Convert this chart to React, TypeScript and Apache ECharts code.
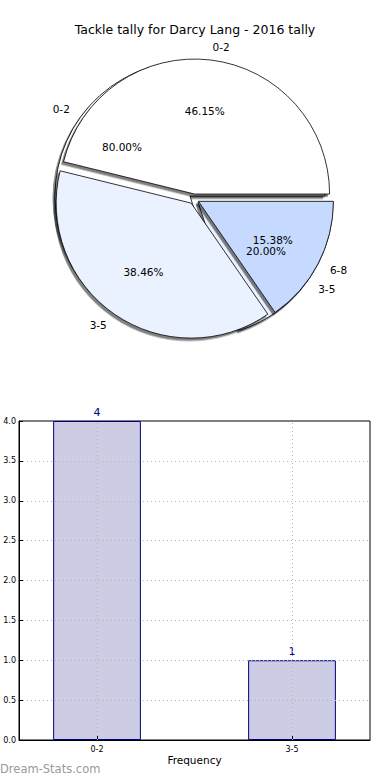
import React, { useEffect, useRef } from 'react';
import * as echarts from 'echarts';

const TITLE = 'Tackle tally for Darcy Lang - 2016 tally';
const WATERMARK = 'Dream-Stats.com';
const X_NAME = 'Frequency';

// back pie (80 / 20)
const pieBackCategories = ['0-2', '3-5'];
const pieBackValues = [4, 1];
// front pie (46.15 / 38.46 / 15.38)
const pieFrontCategories = ['0-2', '3-5', '6-8'];
const pieFrontValues = [6, 5, 2];

// bar chart
const barCategories = ['0-2', '3-5'];
const barValues = [4, 1];
const yMin = 0;
const yMax = 4;
const yInterval = 0.5;

const FONT = '"DejaVu Sans", Verdana, sans-serif';
const sliceColors = ['#ffffff', '#ebf2ff', '#c6d9ff'];

const R = 135;
const CX = 194;
const CY = 199;
const EXPLODE = 5;

const GRID_LEFT = 19;
const GRID_RIGHT = 20;
const GRID_TOP = 421;
const GRID_BOTTOM = 40;
const X_MIN = -0.4;
const X_MAX = 1.4;
const BAR_WIDTH_UNITS = 0.45;

export default function App() {
  const ref = useRef<HTMLDivElement>(null);

  useEffect(() => {
    if (!ref.current) return;
    const chart = echarts.init(ref.current, undefined, { renderer: 'svg' });

    const pieBase: any = {
      type: 'pie',
      center: [CX, CY],
      startAngle: 0,
      clockwise: false,
      selectedMode: 'multiple',
      selectedOffset: EXPLODE,
      silent: true,
      avoidLabelOverlap: false,
      labelLayout: { hideOverlap: false },
      emphasis: { disabled: true },
      animation: false,
    };

    const sliceSeries = (cats: string[], vals: number[], z: number) => ({
      ...pieBase,
      z,
      radius: [0, R],
      itemStyle: {
        borderColor: '#000',
        borderWidth: 0.8,
        shadowBlur: 1,
        shadowOffsetX: -2,
        shadowOffsetY: 2.5,
        shadowColor: 'rgba(0,0,0,0.5)',
      },
      label: {
        show: true,
        position: 'outside',
        formatter: '{b}',
        color: '#000',
        fontSize: 10.5,
        fontFamily: FONT,
        distanceToLabelLine: 0,
      },
      labelLine: { show: false, length: R * 0.1, length2: 0 },
      data: cats.map((c, i) => ({
        name: c,
        value: vals[i],
        selected: true,
        itemStyle: { color: sliceColors[i] },
      })),
    });

    const pctSeries = (cats: string[], vals: number[], z: number) => {
      const total = vals.reduce((a, b) => a + b, 0);
      return {
        ...pieBase,
        z,
        radius: [0, R * 1.2],
        itemStyle: { color: 'rgba(0,0,0,0)', borderWidth: 0 },
        label: {
          show: true,
          position: 'inside',
          formatter: (p: any) => ((p.value / total) * 100).toFixed(2) + '%',
          color: '#000',
          fontSize: 10.5,
          fontFamily: FONT,
        },
        labelLine: { show: false },
        data: cats.map((c, i) => ({ name: c, value: vals[i], selected: true })),
      };
    };

    const plotWidth = 390 - GRID_LEFT - GRID_RIGHT;
    const barWidthPx = (plotWidth / (X_MAX - X_MIN)) * BAR_WIDTH_UNITS;
    const catIdx = barCategories.map((_, i) => i);

    chart.setOption({
      animation: false,
      textStyle: { fontFamily: FONT },
      title: {
        text: TITLE,
        left: 'center',
        top: 18,
        textStyle: { fontSize: 12.5, fontWeight: 'normal', fontFamily: FONT, color: '#000' },
      },
      graphic: [
        {
          type: 'text',
          left: 0,
          top: 763,
          style: { text: WATERMARK, fill: '#9a9a9a', fontSize: 11.5, fontFamily: FONT },
        },
      ],
      grid: {
        left: GRID_LEFT,
        right: GRID_RIGHT,
        top: GRID_TOP,
        bottom: GRID_BOTTOM,
        show: true,
        borderColor: '#000',
        borderWidth: 1,
        backgroundColor: 'rgba(0,0,0,0)',
      },
      xAxis: {
        type: 'value',
        min: X_MIN,
        max: X_MAX,
        z: 5,
        axisLine: { show: true, onZero: false, lineStyle: { color: '#000', width: 1 } },
        axisTick: { show: true, inside: true, length: 4, customValues: catIdx, lineStyle: { color: '#000' } },
        axisLabel: {
          customValues: catIdx,
          formatter: (v: number) => {
            const i = Math.round(v);
            return Math.abs(v - i) < 1e-6 && barCategories[i] ? barCategories[i] : '';
          },
          fontSize: 8,
          color: '#000',
          margin: 5,
          fontFamily: FONT,
        },
        splitLine: { show: false },
        name: X_NAME,
        nameLocation: 'middle',
        nameGap: 14,
        nameTextStyle: { fontSize: 10.5, color: '#000', fontFamily: FONT },
      },
      yAxis: {
        type: 'value',
        min: yMin,
        max: yMax,
        interval: yInterval,
        z: 5,
        axisLine: { show: true, onZero: false, lineStyle: { color: '#000', width: 1 } },
        axisTick: { show: true, inside: true, length: 4, lineStyle: { color: '#000' } },
        axisLabel: {
          formatter: (v: number) => v.toFixed(1),
          fontSize: 8,
          color: '#000',
          margin: 3,
          fontFamily: FONT,
        },
        splitLine: {
          show: true,
          showMinLine: false,
          showMaxLine: false,
          lineStyle: { type: [1, 3], color: '#b4b4b4', width: 1 },
        },
      },
      series: [
        sliceSeries(pieBackCategories, pieBackValues, 2),
        sliceSeries(pieFrontCategories, pieFrontValues, 3),
        pctSeries(pieBackCategories, pieBackValues, 4),
        pctSeries(pieFrontCategories, pieFrontValues, 5),
        {
          type: 'bar',
          data: barCategories.map((_, i) => [i, barValues[i]]),
          barWidth: barWidthPx,
          silent: true,
          itemStyle: { color: '#ccccE5', borderColor: '#000080', borderWidth: 1 },
          label: {
            show: true,
            position: 'top',
            distance: 3,
            color: '#000080',
            fontSize: 11,
            fontFamily: FONT,
            formatter: (p: any) => String(p.value[1]),
          },
          markLine: {
            silent: true,
            symbol: 'none',
            z: 6,
            label: { show: false },
            lineStyle: { type: [1, 3], color: '#b4b4b4', width: 1 },
            data: catIdx.map((i) => ({ xAxis: i })),
          },
        },
      ],
    });

    return () => chart.dispose();
  }, []);

  return (
    <div
      ref={ref}
      style={{ position: 'fixed', left: 0, top: 0, width: 390, height: 780, background: '#fff' }}
    />
  );
}
